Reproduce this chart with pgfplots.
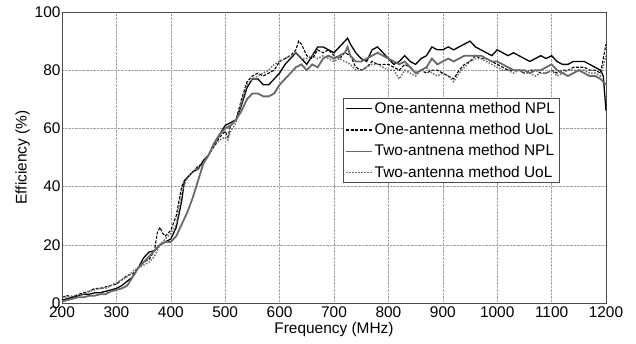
\documentclass[border=0pt]{standalone}
\usepackage{pgfplots}
\pgfplotsset{compat=1.18}
\usepackage{fontspec}
\setmainfont{Liberation Sans}
\definecolor{grayA}{RGB}{105,105,105}
\definecolor{grayB}{RGB}{110,110,110}
\definecolor{gridc}{RGB}{160,160,160}
\begin{document}
\begin{tikzpicture}
\begin{axis}[
  scale only axis,
  width=544bp, height=291bp,
  xmin=200, xmax=1200, ymin=0, ymax=100,
  xtick={200,300,...,1200}, ytick={0,20,...,100},
  grid=major,
  major grid style={densely dotted, gridc, line width=0.6pt},
  axis line style={black!70, line width=0.7pt},
  tick style={draw=none},
  /pgf/number format/assume math mode=true,
  /pgf/number format/1000 sep={},
  tick label style={font=\fontsize{15.5}{18}\selectfont},
  xticklabel style={yshift=0bp},
  yticklabel style={xshift=2bp},
  label style={font=\fontsize{15.5}{18}\selectfont},
  xlabel={Frequency (MHz)},
  ylabel={Efficiency (\%)},
  xlabel style={yshift=2bp},
  ylabel style={yshift=-2bp},
  legend style={at={(rel axis cs:0.517,0.704)}, anchor=north west,
    font=\fontsize{15.5}{17}\selectfont, draw=black!70, line width=0.6pt,
    inner sep=2bp, row sep=4.5bp, legend cell align=left},
  legend image code/.code={\draw[#1] (0bp,0bp) -- (26bp,0bp);},
  legend image post style={line width=1.2pt},
]
\addplot[black, line width=1.3pt] coordinates {
(200,1)(210,1.5)(220,2)(230,2.5)(240,3)(250,3)(260,3.5)(270,3.5)(280,4)(290,4.5)
(300,5)(310,6)(320,7.5)(330,9)(340,12)(350,15.5)(360,17.5)(370,18)(380,20)(390,21)
(400,22)(410,26)(420,35)(425,42)(430,43)(440,45)(450,46)(460,49)(470,51)(480,55)
(490,58)(500,61)(510,62)(520,63)(530,68)(540,74)(550,77)(560,77)(570,75)(580,75)
(590,77)(600,79)(610,82)(620,84)(630,86)(640,84)(650,82)(660,85)(670,88)(680,88)
(690,87)(700,86)(710,88)(720,90)(725,91)(730,89)(740,86)(750,84)(760,83)(770,87)
(780,88)(790,86)(800,84)(810,82)(820,83)(830,85)(840,83)(850,82)(860,84)(870,85)
(880,88)(890,87)(900,87)(910,88)(920,87)(930,88)(940,89)(950,90)(960,88)(970,87)
(980,86)(990,85)(1000,87)(1010,86)(1020,85)(1030,86)(1040,85)(1050,84)(1060,83)
(1070,84)(1080,85)(1090,84)(1100,85)(1110,83)(1120,82)(1130,82)(1140,83)(1150,83)
(1160,83)(1170,82)(1180,81)(1190,80)(1195,78)(1200,66)};
\addlegendentry{One-antenna method NPL}
\addplot[black, line width=1.1pt, dash pattern=on 3pt off 1.5pt] coordinates {
(200,2)(210,2.5)(220,2)(230,3)(240,3.5)(250,4)(260,5)(270,5)(280,5.5)(290,6)
(300,6.5)(310,8)(320,9.5)(330,10)(340,12)(350,14)(360,15)(370,18)(375,24)(380,26)
(385,24)(390,23)(400,25)(410,30)(420,40)(425,42)(430,43)(440,45)(450,47)(460,48)
(470,51)(480,54)(490,57)(500,59)(505,57)(510,61)(520,63)(530,70)(540,76)(550,78)
(560,79)(570,78)(580,79)(590,80)(600,83)(610,84)(620,85)(630,87)(635,90)(640,89)
(650,85)(660,84)(670,87)(680,86)(690,87)(700,85)(710,84)(720,86)(730,85)(740,81)
(750,80)(760,81)(770,83)(780,82)(790,82)(800,82)(810,81)(820,80)(830,82)(840,81)
(850,79)(860,80)(870,79)(880,80)(890,80)(900,79)(910,78)(920,77)(930,80)(940,82)
(950,83)(960,85)(970,84)(980,84)(990,83)(1000,82)(1010,81)(1020,80)(1030,80)
(1040,80)(1050,79)(1060,80)(1070,80)(1080,79)(1090,79)(1100,80)(1110,79)(1120,80)
(1130,80)(1140,81)(1150,81)(1160,81)(1170,80)(1180,80)(1190,79)(1200,89)};
\addlegendentry{One-antenna method UoL}
\addplot[grayA, line width=1.8pt] coordinates {
(200,0.5)(210,1)(220,1.5)(230,2)(240,2)(250,2.5)(260,2.5)(270,3)(280,3)(290,4)
(300,4.5)(310,5)(320,6)(330,9)(340,12)(350,14)(360,16)(370,18)(380,20)(390,21)
(400,21)(410,23)(420,27)(430,31)(440,36)(450,42)(460,48)(470,51)(480,55)(490,58)
(500,60)(510,61)(520,63)(530,66)(540,70)(550,72)(560,72)(570,71)(580,71)(590,72)
(600,75)(610,77)(620,79)(630,81)(640,82)(650,80)(660,82)(670,81)(680,84)(690,85)
(700,84)(710,85)(720,86)(725,88)(730,85)(740,83)(750,83)(760,84)(770,85)(780,86)
(790,85)(800,84)(810,83)(820,82)(830,83)(840,81)(850,79)(860,80)(870,81)(880,84)
(890,82)(900,83)(910,84)(920,83)(930,84)(940,85)(950,85)(960,85)(970,85)(980,84)
(990,83)(1000,83)(1010,82)(1020,81)(1030,80)(1040,80)(1050,80)(1060,79)(1070,80)
(1080,80)(1090,81)(1100,82)(1110,80)(1120,79)(1130,78)(1140,79)(1150,80)(1160,79)
(1170,78)(1180,78)(1190,77)(1200,75)};
\addlegendentry{Two-antnena method NPL}
\addplot[grayB, line width=1.5pt, dash pattern=on 1.5pt off 1.5pt] coordinates {
(200,2)(210,2)(220,2.5)(230,2.5)(240,3)(250,4)(260,4.5)(270,5)(280,5)(290,6)
(300,7)(310,8)(320,9)(330,11)(340,12)(350,13)(360,14)(370,16)(380,20)(390,22)
(400,24)(410,27)(420,38)(430,43)(440,45)(450,46)(460,48)(470,51)(480,54)(490,56)
(500,57)(505,56)(510,59)(520,62)(530,69)(540,75)(550,77)(560,78)(570,79)(580,80)
(590,82)(600,83)(610,84)(620,85)(630,86)(640,84)(650,84)(660,85)(670,84)(680,85)
(690,84)(700,83)(710,84)(720,83)(730,82)(740,80)(750,80)(760,81)(770,82)(780,82)
(790,81)(800,80)(810,80)(820,77)(830,80)(840,79)(850,78)(860,80)(870,81)(880,79)
(890,78)(900,79)(910,78)(920,76)(930,79)(940,81)(950,83)(960,84)(970,84)(980,83)
(990,82)(1000,81)(1010,80)(1020,80)(1030,79)(1040,80)(1050,79)(1060,79)(1070,78)
(1080,79)(1090,79)(1100,80)(1110,78)(1120,79)(1130,80)(1140,80)(1150,80)(1160,80)
(1170,79)(1180,79)(1190,78)(1200,85)};
\addlegendentry{Two-antenna method UoL}
\end{axis}
\path (current axis.south west) ++(-62bp,-41bp) rectangle ++(636bp,344bp);
\end{tikzpicture}
\end{document}
